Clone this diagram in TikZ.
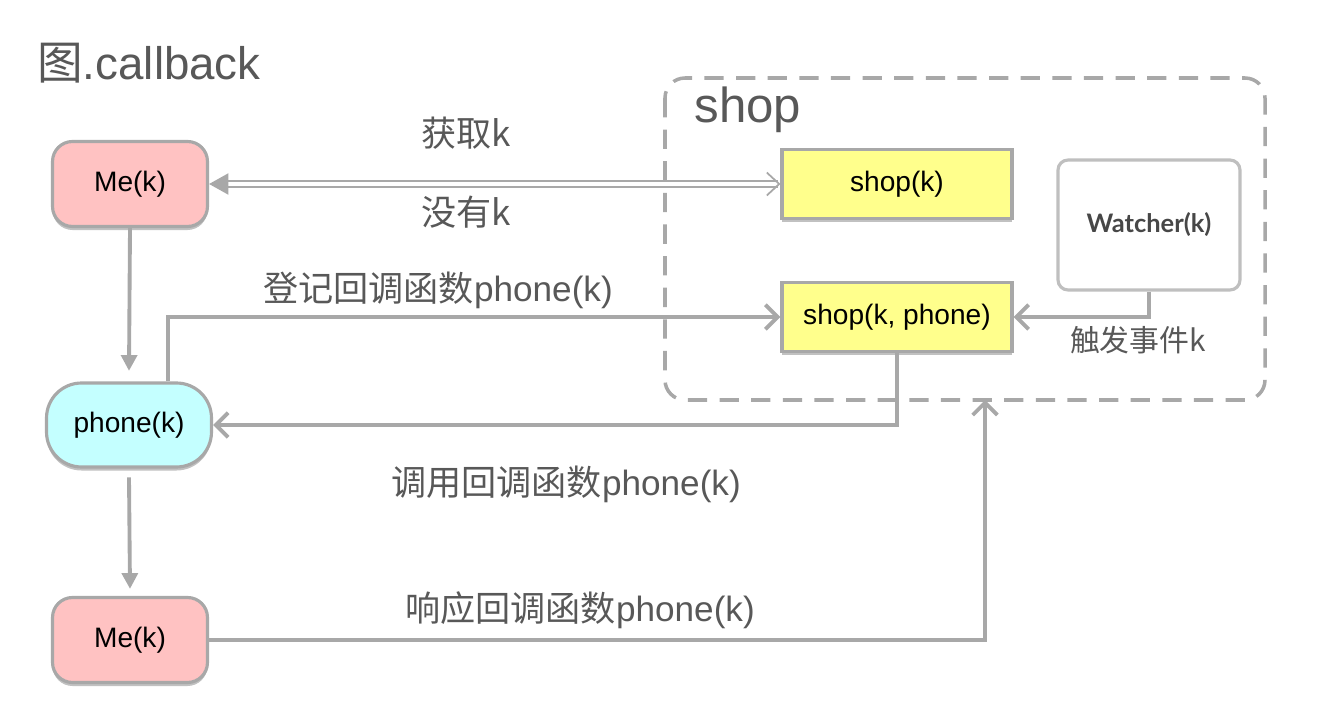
\documentclass[tikz,border=0pt]{standalone}
\usepackage{fontspec}
\setmainfont{Liberation Sans}
\newfontfamily\cjk{Noto Sans CJK SC}
\newfontfamily\watcherfont{Lato}
\usetikzlibrary{arrows.meta, positioning, shadows}
\definecolor{linegray}{RGB}{168,168,168}
\definecolor{labelgray}{RGB}{88,88,88}
\definecolor{mepink}{RGB}{255,194,194}
\definecolor{phonecyan}{RGB}{196,255,255}
\definecolor{shopyellow}{RGB}{255,255,140}

\begin{document}
\begin{tikzpicture}[x=0.02cm, y=-0.02cm,
    node/.style={draw=linegray, line width=1.8pt, text=black, font=\fontsize{16}{19}\selectfont,
        drop shadow={shadow xshift=0pt, shadow yshift=-2pt, opacity=0.35, fill=black!70}},
    mebox/.style={node, fill=mepink, rounded corners=0.4cm, minimum width=3.1cm, minimum height=1.7cm},
    shopbox/.style={node, fill=shopyellow, minimum width=4.6cm, minimum height=1.38cm},
    lbl/.style={text=labelgray, font=\fontsize{20}{24}\selectfont},
    conn/.style={draw=linegray, line width=2.2pt},
    filled/.style={conn, -{Triangle[length=9pt, width=9pt]}},
    barb/.style={conn, -{Straight Barb[length=7pt, width=14pt]}}]
    \useasboundingbox (0,0) rectangle (1320,716);

    % title and the shop frame
    \node[text=labelgray, font=\fontsize{26}{30}\selectfont] (title) at (149,63) {{\cjk 图}.callback};
    \draw[draw=linegray, line width=2pt, dash pattern=on 11pt off 7pt, rounded corners=0.4cm]
        (665,78) rectangle (1265,400);
    \coordinate (shopfoot) at (985,400);
    \node[text=labelgray, font=\fontsize{28}{32}\selectfont] (shoptitle) at (748,110) {shop};

    % nodes
    \node[mebox] (me1) at (130,184) {Me(k)};
    \node[node, fill=phonecyan, rounded corners=0.7cm, minimum width=3.3cm, minimum height=1.68cm] (phone) at (129,425) {phone(k)};
    \node[mebox] (me2) at (130,640) {Me(k)};
    \node[shopbox] (shopk) at (897,184) {shop(k)};
    \node[shopbox] (shopkp) at (897,317) {shop(k, phone)};
    \node[draw=black!25, line width=1.8pt, fill=white, rounded corners=0.2cm, minimum width=3.64cm, minimum height=2.6cm,
        text=black!72, font=\watcherfont\bfseries\fontsize{14.5}{17}\selectfont] (watcher) at (1149,225) {Watcher(k)};

    % connectors
    \draw[draw=linegray, line width=1pt, double=white, double distance=2.4pt,
        {Triangle[length=11pt, width=12pt]}-{Straight Barb[length=7pt, width=13pt]}] (me1.east) -- (shopk.west);
    \node[lbl] (get) at (466,133) {\cjk 获取k};
    \node[lbl] (none) at (466,212) {\cjk 没有k};

    \draw[filled] (me1.south) -- ([yshift=6pt]phone.north);
    \draw[barb] ([xshift=0.78cm]phone.north) |- (shopkp.west);
    \node[lbl] (register) at (438,290) {{\cjk 登记回调函数}phone(k)};

    \draw[barb] (watcher.south) |- (shopkp.east);
    \node[lbl, font=\fontsize{17}{20}\selectfont] (trigger) at (1138,340) {\cjk 触发事件k};

    \draw[barb] (shopkp.south) |- (phone.east);
    \node[lbl] (invoke) at (566,484) {{\cjk 调用回调函数}phone(k)};

    \draw[filled] ([yshift=-5pt]phone.south) -- ([yshift=4pt]me2.north);
    \draw[barb] (me2.east) -| (shopfoot);
    \node[lbl] (reply) at (580,610) {{\cjk 响应回调函数}phone(k)};
\end{tikzpicture}
\end{document}
